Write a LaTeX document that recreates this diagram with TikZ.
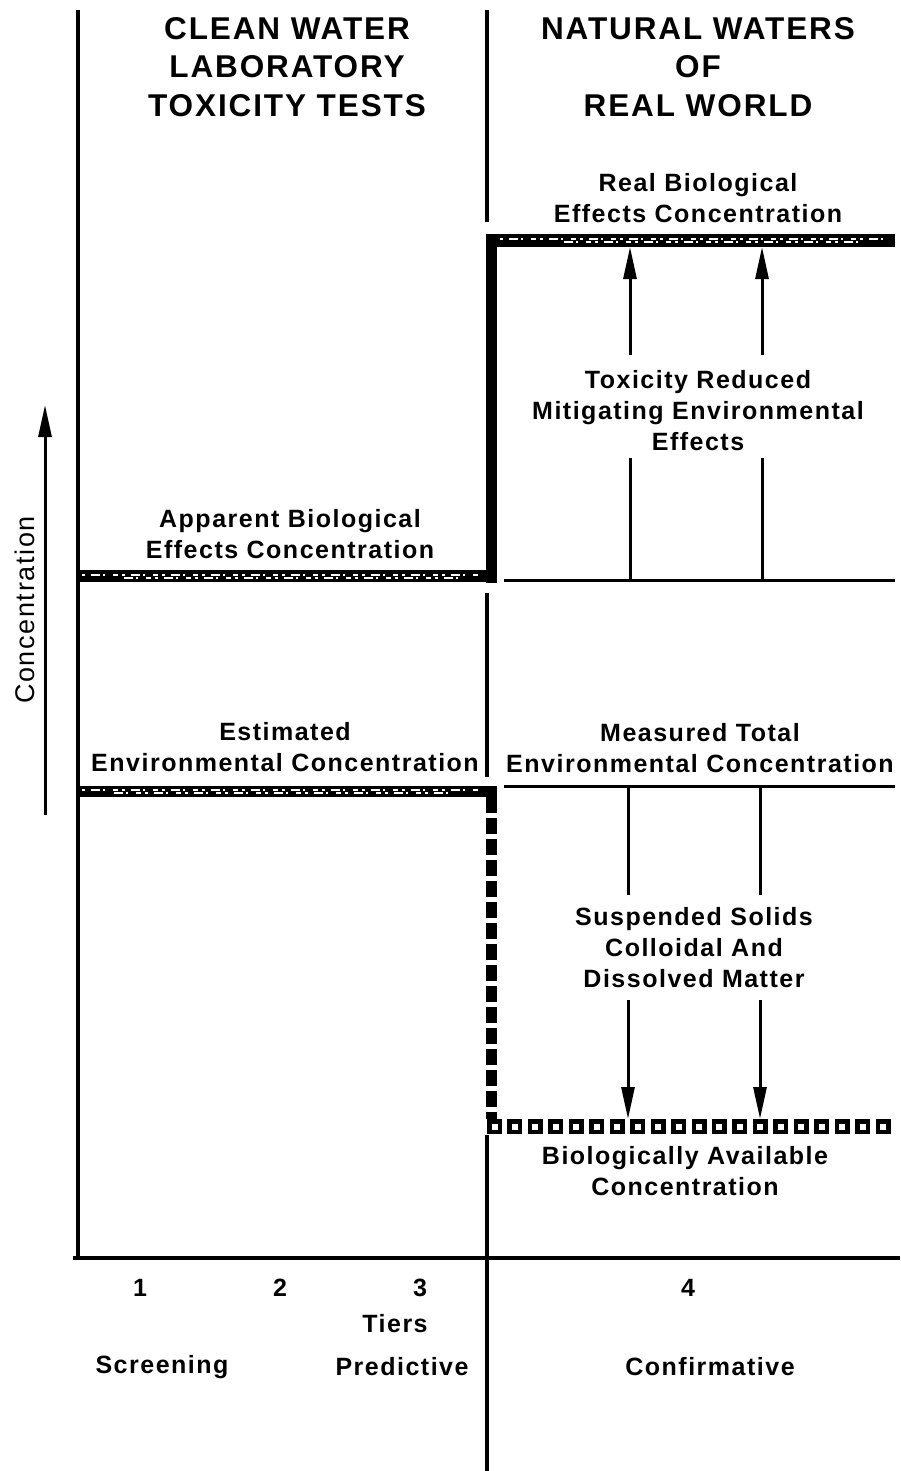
\documentclass[tikz,border=0pt]{standalone}
\usepackage{fontspec}
\setmainfont{Liberation Sans}
\newfontfamily\lblfont[LetterSpace=6]{Liberation Sans Bold}
\newfontfamily\axfont[LetterSpace=6]{Liberation Sans}
\usetikzlibrary{arrows.meta}
\tikzset{
  lbl/.style={font=\lblfont\fontsize{25}{31}\selectfont, align=center, inner sep=0pt},
  ttl/.style={font=\lblfont\fontsize{31.5}{38.5}\selectfont, align=center, inner sep=0pt},
  axisline/.style={line width=3.5pt},
  thinline/.style={line width=3pt},
  arr/.style={line width=3pt, -{Triangle[length=32pt,width=13pt]}},
  texture/.style={white, line width=1.6pt, dash pattern=on 3pt off 6pt on 9pt off 3pt on 2pt off 8pt on 5pt off 4pt},
}
\begin{document}
\begin{tikzpicture}[x=1pt,y=-1pt]
\useasboundingbox (0,0) rectangle (900,1471);
% axes
\draw[axisline] (78,10) -- (78,1258);
\draw[axisline] (73,1258) -- (900,1258);
% middle divider
\draw[axisline] (487,10) -- (487,222);
\draw[axisline] (487,593) -- (487,777);
\draw[axisline] (487,1135) -- (487,1471);
% thick solid vertical (real bio)
\fill (486,234) rectangle (497,583);
% real bio bar
\fill (486,234) rectangle (895,247);
\draw[texture] (500,239) -- (890,239);
\draw[texture, dash phase=5pt] (560,242) -- (860,242);
% apparent bar
\fill (78,570) rectangle (497,582);
\draw[texture] (82,575) -- (480,575);
\draw[texture, dash phase=5pt] (120,578) -- (460,578);
% estimated bar
\fill (78,786) rectangle (497,797);
\draw[texture] (82,790) -- (480,790);
\draw[texture, dash phase=5pt] (110,793) -- (450,793);
% dashed vertical
\draw[line width=11pt, dash pattern=on 16pt off 5pt] (491.5,797) -- (491.5,1119);
% right thin lines
\draw[thinline] (504,580) -- (895,580);
\draw[thinline] (504,786) -- (895,786);
% biologically available squares
\foreach \i in {0,...,19}{
  \fill (487+\i*20.45,1119) rectangle ++(15,15);
  \fill[white] (491.5+\i*20.45,1123.5) rectangle ++(6,6);
}
% titles
\node[ttl] (tl) at (287,67) {CLEAN WATER\\LABORATORY\\TOXICITY TESTS};
\node[ttl] (tr) at (698,67) {NATURAL WATERS\\OF\\REAL WORLD};
% labels
\node[lbl] (real) at (698,198) {Real Biological\\Effects Concentration};
\node[lbl] (tox) at (698,411) {Toxicity Reduced\\Mitigating Environmental\\Effects};
\node[lbl] (app) at (290,534) {Apparent Biological\\Effects Concentration};
\node[lbl] (est) at (285,747) {Estimated\\Environmental Concentration};
\node[lbl] (meas) at (700,748) {Measured Total\\Environmental Concentration};
\node[lbl] (susp) at (694,948) {Suspended Solids\\Colloidal And\\Dissolved Matter};
\node[lbl] (bio) at (685,1171) {Biologically Available\\Concentration};
% tiers
\node[lbl] (t1) at (140,1288) {1};
\node[lbl] (t2) at (280,1288) {2};
\node[lbl] (t3) at (420,1288) {3};
\node[lbl] (t4) at (688,1288) {4};
\node[lbl] (tiers) at (395,1324) {Tiers};
\node[lbl] (scr) at (162,1367) {Screening};
\node[lbl] (pred) at (402,1367) {Predictive};
\node[lbl] (conf) at (710,1367) {Confirmative};
% concentration axis arrow
\coordinate (cb) at (45,815);
\coordinate (ct) at (45,405);
\draw[arr] (cb) -- (ct);
\node[font=\axfont\fontsize{27}{30}\selectfont, rotate=90, inner sep=0pt] (conc) at (25,610) {Concentration};
% up arrows
\coordinate (ua1) at (630,580); \coordinate (ua1t) at (630,458);
\coordinate (ua1b) at (630,355); \coordinate (ua1e) at (630,247);
\coordinate (ua2) at (762,580); \coordinate (ua2t) at (762,458);
\coordinate (ua2b) at (762,355); \coordinate (ua2e) at (762,247);
\draw[thinline] (ua1) -- (ua1t);
\draw[thinline] (ua2) -- (ua2t);
\draw[arr] (ua1b) -- (ua1e);
\draw[arr] (ua2b) -- (ua2e);
% down arrows
\coordinate (da1) at (628,786); \coordinate (da1t) at (628,895);
\coordinate (da1b) at (628,1000); \coordinate (da1e) at (628,1119);
\coordinate (da2) at (760,786); \coordinate (da2t) at (760,895);
\coordinate (da2b) at (760,1000); \coordinate (da2e) at (760,1119);
\draw[thinline] (da1) -- (da1t);
\draw[thinline] (da2) -- (da2t);
\draw[arr] (da1b) -- (da1e);
\draw[arr] (da2b) -- (da2e);
\end{tikzpicture}
\end{document}
